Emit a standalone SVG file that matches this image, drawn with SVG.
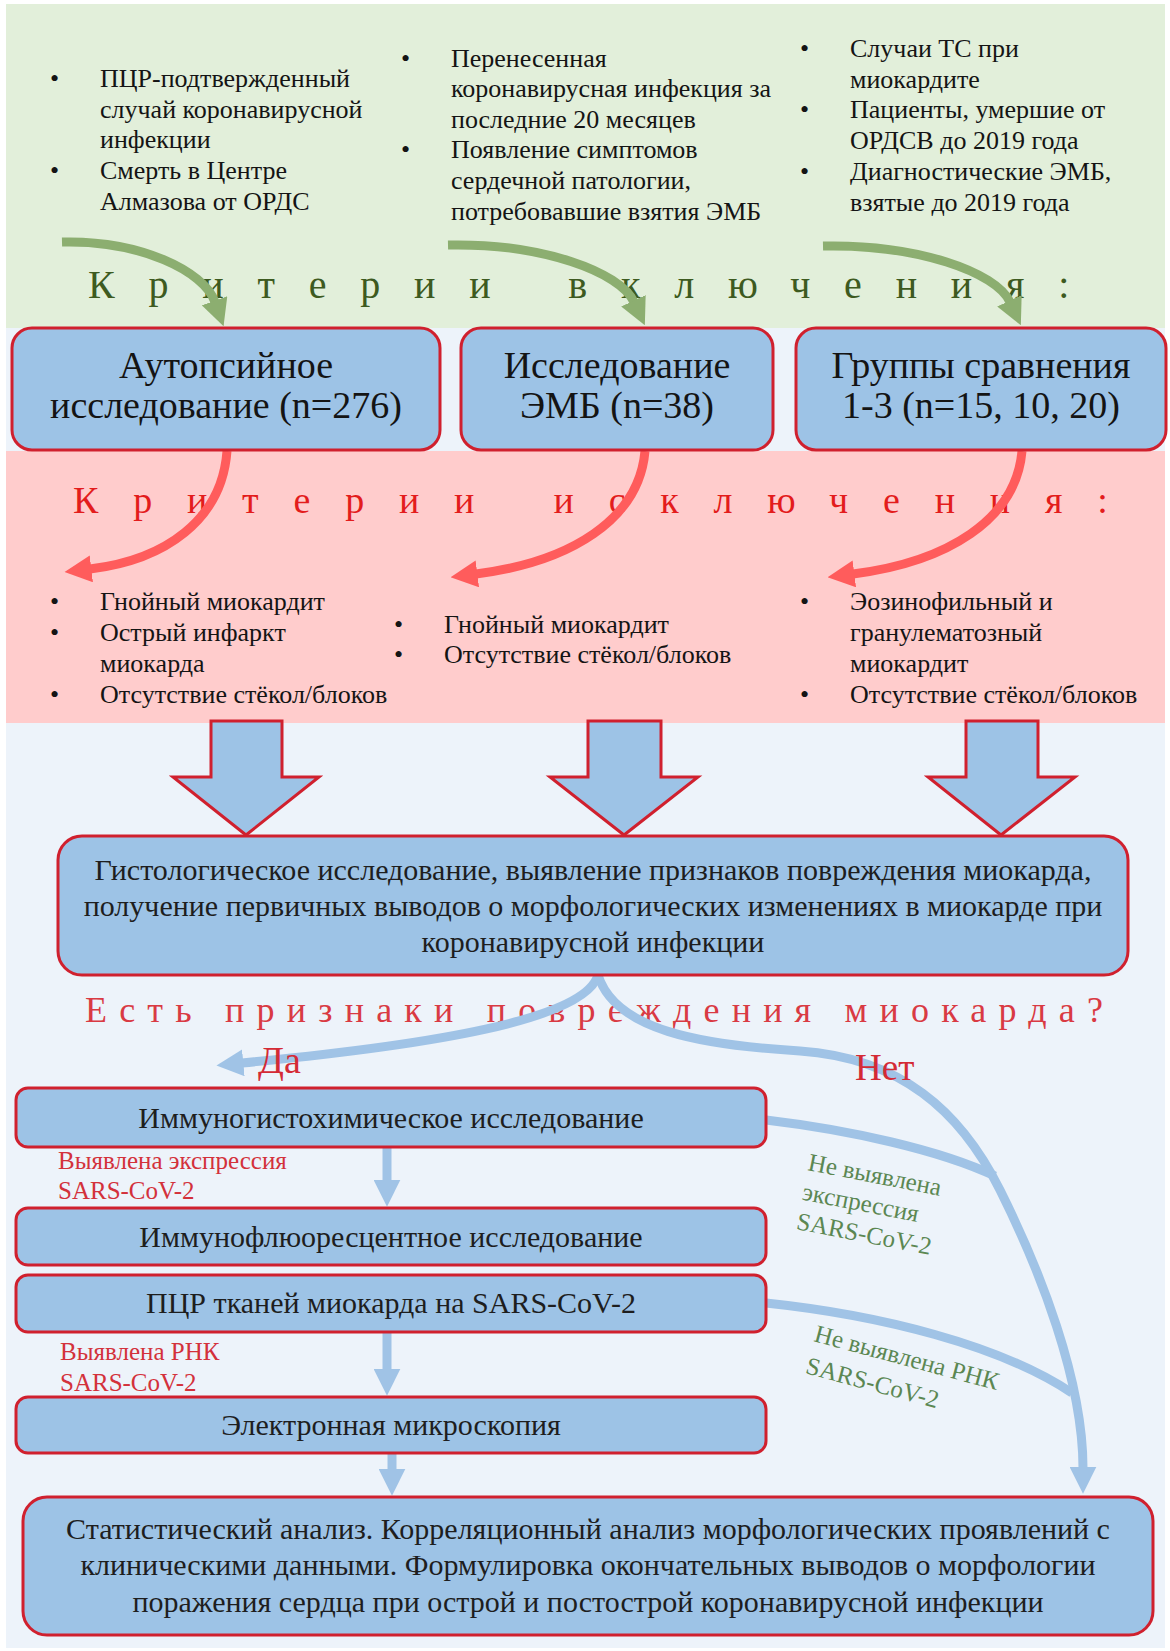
<svg xmlns="http://www.w3.org/2000/svg" width="1170" height="1651" viewBox="0 0 1170 1651">
<defs>
<style>
text{font-family:'Liberation Serif','Times New Roman',serif}
.box{fill:#9dc3e6;stroke:#d0202e;stroke-width:3}
.lst{font-size:26px;fill:#141414}
.bx{font-size:38px;text-anchor:middle;fill:#141414}
.md{font-size:30px;text-anchor:middle;fill:#1e1e1e}
.ga{fill:none;stroke:#8cae70;stroke-width:9}
.ra{fill:none;stroke:#ff5c5c;stroke-width:9}
.ba{fill:none;stroke:#a0c3e6;stroke-width:9}
.rl{font-size:25px;fill:#d3313b}
.gl{font-size:25px;fill:#5b8752}
</style>
<marker id="mg" viewBox="0 0 10 10" refX="0.5" refY="5" markerWidth="3" markerHeight="3" orient="auto" markerUnits="strokeWidth"><path d="M0,0 L10,5 L0,10 z" fill="#8cae70"/></marker>
<marker id="mr" viewBox="0 0 10 10" refX="0.5" refY="5" markerWidth="3" markerHeight="3" orient="auto" markerUnits="strokeWidth"><path d="M0,0 L10,5 L0,10 z" fill="#ff5c5c"/></marker>
<marker id="mb" viewBox="0 0 10 10" refX="0.5" refY="5" markerWidth="3" markerHeight="3" orient="auto" markerUnits="strokeWidth"><path d="M0,0 L10,5 L0,10 z" fill="#a0c3e6"/></marker>
</defs>
<rect width="1170" height="1651" fill="#ffffff"/>
<g id="backgrounds">
<rect x="6" y="4" width="1159" height="1644" fill="#edf3fa"/>
<rect x="6" y="4" width="1159" height="324" fill="#e2efda"/>
<rect x="6" y="451" width="1159" height="272" fill="#ffcccc"/>
</g>
<g id="inclusion-lists" class="lst">
<text class="lst" x="50" y="87">•</text>
<text class="lst" x="100" y="87">ПЦР-подтвержденный</text>
<text class="lst" x="100" y="118">случай коронавирусной</text>
<text class="lst" x="100" y="148">инфекции</text>
<text class="lst" x="50" y="179">•</text>
<text class="lst" x="100" y="179">Смерть в Центре</text>
<text class="lst" x="100" y="210">Алмазова от ОРДС</text>
<text class="lst" x="401" y="67">•</text>
<text class="lst" x="451" y="67">Перенесенная</text>
<text class="lst" x="451" y="97">коронавирусная инфекция за</text>
<text class="lst" x="451" y="128">последние 20 месяцев</text>
<text class="lst" x="401" y="158">•</text>
<text class="lst" x="451" y="158">Появление симптомов</text>
<text class="lst" x="451" y="189">сердечной патологии,</text>
<text class="lst" x="451" y="220">потребовавшие взятия ЭМБ</text>
<text class="lst" x="800" y="57">•</text>
<text class="lst" x="850" y="57">Случаи ТС при</text>
<text class="lst" x="850" y="88">миокардите</text>
<text class="lst" x="800" y="118">•</text>
<text class="lst" x="850" y="118">Пациенты, умершие от</text>
<text class="lst" x="850" y="149">ОРДСВ до 2019 года</text>
<text class="lst" x="800" y="180">•</text>
<text class="lst" x="850" y="180">Диагностические ЭМБ,</text>
<text class="lst" x="850" y="211">взятые до 2019 года</text>
</g>
<g id="exclusion-lists">
<text class="lst" x="50" y="610">•</text>
<text class="lst" x="100" y="610">Гнойный миокардит</text>
<text class="lst" x="50" y="641">•</text>
<text class="lst" x="100" y="641">Острый инфаркт</text>
<text class="lst" x="100" y="672">миокарда</text>
<text class="lst" x="50" y="703">•</text>
<text class="lst" x="100" y="703">Отсутствие стёкол/блоков</text>
<text class="lst" x="394" y="633">•</text>
<text class="lst" x="444" y="633">Гнойный миокардит</text>
<text class="lst" x="394" y="663">•</text>
<text class="lst" x="444" y="663">Отсутствие стёкол/блоков</text>
<text class="lst" x="800" y="610">•</text>
<text class="lst" x="850" y="610">Эозинофильный и</text>
<text class="lst" x="850" y="641">гранулематозный</text>
<text class="lst" x="850" y="672">миокардит</text>
<text class="lst" x="800" y="703">•</text>
<text class="lst" x="850" y="703">Отсутствие стёкол/блоков</text>
</g>
<g id="titles">
<text x="88" y="298" font-size="40" letter-spacing="33.8" fill="#3d5a20">Критерии включения:</text>
<text x="73" y="513" font-size="38" letter-spacing="34.8" fill="#e31c1c">Критерии исключения:</text>
<text x="85" y="1022" font-size="36" letter-spacing="12.2" fill="#d93a43">Есть признаки повреждения миокарда?</text>
</g>
<g id="connectors">
<path class="ga" marker-end="url(#mg)" d="M62,242 C140,240 204,271 215,302"/>
<path class="ga" marker-end="url(#mg)" d="M448,245 C542,243 620,272 634,302"/>
<path class="ga" marker-end="url(#mg)" d="M823,246 C917,244 996,272 1010,302"/>
<path class="ra" marker-end="url(#mr)" d="M227,451 C222,520 165,560 90,569"/>
<path class="ra" marker-end="url(#mr)" d="M645,451 C639,520 570,562 476,574"/>
<path class="ra" marker-end="url(#mr)" d="M1022,451 C1016,520 947,562 853,574"/>
<path class="ba" marker-end="url(#mb)" d="M598,975 C585,1020 430,1045 242,1063"/>
<path class="ba" marker-end="url(#mb)" d="M598,975 C615,1030 700,1045 800,1051 C900,1058 960,1110 1000,1190 C1040,1270 1083,1380 1083,1468"/>
<path class="ba" d="M766,1120 C850,1130 940,1150 995,1176"/>
<path class="ba" d="M766,1303 C880,1315 1000,1345 1072,1393"/>
<path class="ba" marker-end="url(#mb)" d="M387,1147 L387,1181"/>
<path class="ba" marker-end="url(#mb)" d="M387,1332 L387,1370"/>
<path class="ba" marker-end="url(#mb)" d="M392,1453 L392,1470"/>
</g>
<g id="block-arrows" class="box">
<polygon class="box" points="211,721 282,721 282,777 319,777 246,835 173,777 211,777"/>
<polygon class="box" points="588,721 661,721 661,777 698,777 624,835 550,777 588,777"/>
<polygon class="box" points="966,721 1038,721 1038,777 1075,777 1001,835 928,777 966,777"/>
</g>
<g id="node-autopsy">
<rect class="box" x="12" y="328" width="428" height="122" rx="20"/>
<text class="bx" x="226" y="378">Аутопсийное</text>
<text class="bx" x="226" y="418">исследование (n=276)</text>
</g>
<g id="node-emb">
<rect class="box" x="461" y="328" width="312" height="122" rx="20"/>
<text class="bx" x="617" y="378">Исследование</text>
<text class="bx" x="617" y="418">ЭМБ (n=38)</text>
</g>
<g id="node-groups">
<rect class="box" x="796" y="328" width="370" height="122" rx="20"/>
<text class="bx" x="981" y="378">Группы сравнения</text>
<text class="bx" x="981" y="418">1-3 (n=15, 10, 20)</text>
</g>
<g id="node-histology">
<rect class="box" x="58" y="836" width="1070" height="139" rx="24"/>
<text class="md" x="593" y="880">Гистологическое исследование, выявление признаков повреждения миокарда,</text>
<text class="md" x="593" y="916">получение первичных выводов о морфологических изменениях в миокарде при</text>
<text class="md" x="593" y="952">коронавирусной инфекции</text>
</g>
<g id="node-ihc">
<rect class="box" x="16" y="1088" width="750" height="59" rx="12"/>
<text class="md" x="391" y="1128">Иммуногистохимическое исследование</text>
</g>
<g id="node-if">
<rect class="box" x="16" y="1208" width="750" height="57" rx="12"/>
<text class="md" x="391" y="1247">Иммунофлюоресцентное исследование</text>
</g>
<g id="node-pcr">
<rect class="box" x="16" y="1275" width="750" height="57" rx="12"/>
<text class="md" x="391" y="1313">ПЦР тканей миокарда на SARS-CoV-2</text>
</g>
<g id="node-em">
<rect class="box" x="16" y="1397" width="750" height="56" rx="12"/>
<text class="md" x="391" y="1435">Электронная микроскопия</text>
</g>
<g id="node-final">
<rect class="box" x="23" y="1497" width="1130" height="138" rx="24"/>
<text class="md" x="588" y="1539">Статистический анализ. Корреляционный анализ морфологических проявлений с</text>
<text class="md" x="588" y="1575">клиническими данными. Формулировка окончательных выводов о морфологии</text>
<text class="md" x="588" y="1612">поражения сердца при острой и постострой коронавирусной инфекции</text>
</g>
<g id="labels">
<text x="258" y="1073" font-size="38" fill="#d42a35">Да</text>
<text x="855" y="1080" font-size="37" fill="#d42a35">Нет</text>
<text class="rl" x="58" y="1169">Выявлена экспрессия</text>
<text class="rl" x="58" y="1199">SARS-CoV-2</text>
<text class="rl" x="60" y="1360">Выявлена РНК</text>
<text class="rl" x="60" y="1391">SARS-CoV-2</text>
<g transform="rotate(11 807 1170)">
<text class="gl" x="807" y="1170">Не выявлена</text>
<text class="gl" x="807" y="1200">экспрессия</text>
<text class="gl" x="807" y="1230">SARS-CoV-2</text>
</g>
<g transform="rotate(15 813 1341)">
<text class="gl" x="813" y="1341">Не выявлена РНК</text>
<text class="gl" x="813" y="1374">SARS-CoV-2</text>
</g>
</g>
</svg>
